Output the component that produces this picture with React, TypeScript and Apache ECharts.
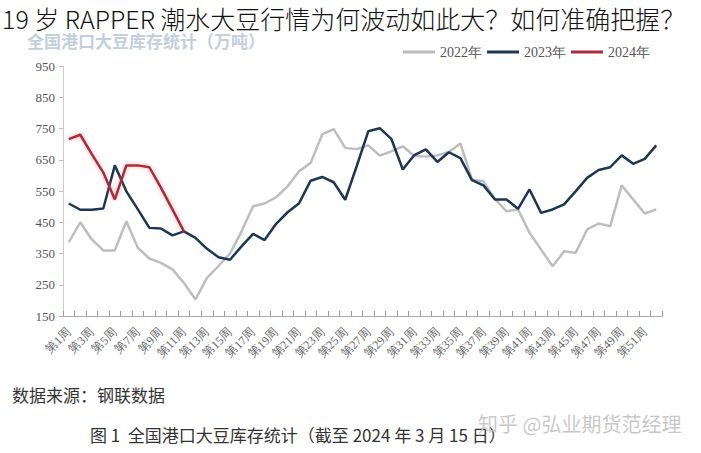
import React, { useEffect, useRef } from "react";
import * as echarts from "echarts";

const weeks: string[] = Array.from({ length: 52 }, (_, i) => `第${i + 1}周`);

const y2022: number[] = [
  386, 450, 395, 360, 360, 453, 368, 334, 320, 299, 256, 203, 272, 310, 350, 421,
  501, 510, 530, 565, 613, 640, 731, 748, 688, 684, 696, 663, 677, 693, 662, 660,
  664, 675, 702, 587, 581, 525, 485, 491, 416, 363, 309, 357, 352, 427, 446, 437,
  568, 523, 478, 491,
];

const y2023: number[] = [
  510, 490, 490, 494, 632, 549, 491, 432, 430, 408, 421, 400, 365, 338, 330, 373,
  413, 393, 445, 482, 511, 583, 595, 578, 522, 630, 741, 751, 717, 619, 665, 683,
  643, 674, 655, 585, 568, 523, 523, 493, 555, 480, 491, 507, 549, 592, 617, 626,
  664, 637, 653, 696,
];

const y2024: number[] = [716, 730, 668, 609, 523, 632, 632, 626, 561, 491, 421];

const seriesNames = ["2022年", "2023年", "2024年"];
const colors = ["#bdbdbd", "#1d3654", "#a82a3a"];

const headline = "19 岁 RAPPER 潮水大豆行情为何波动如此大？如何准确把握？";
const chartTitle = "全国港口大豆库存统计（万吨）";
const sourceText = "数据来源：钢联数据";
const caption = "图 1  全国港口大豆库存统计（截至 2024 年 3 月 15 日）";
const watermark = "知乎 @弘业期货范经理";

export default function App() {
  const ref = useRef<HTMLDivElement>(null);
  useEffect(() => {
    if (!ref.current) return;
    const chart = echarts.init(ref.current, null, { renderer: "svg" });
    const serif = "'Liberation Serif', 'DejaVu Serif', serif";
    const cjk = "'Noto Sans CJK SC', sans-serif";
    chart.setOption({
      animation: false,
      backgroundColor: "#ffffff",
      grid: { left: 63, right: 39, top: 66, bottom: 137 },
      legend: {
        data: seriesNames,
        left: 398,
        top: 40,
        itemWidth: 32,
        itemHeight: 3,
        itemGap: 5,
        icon: "rect",
        textStyle: { fontFamily: serif, fontSize: 14, color: "#555" },
      },
      xAxis: {
        type: "category",
        data: weeks,
        boundaryGap: true,
        axisLine: { lineStyle: { color: "#aaaaaa", width: 1 } },
        axisTick: { show: true, inside: true, length: 5, interval: 0, lineStyle: { color: "#999" } },
        axisLabel: {
          interval: 1,
          rotate: 45,
          fontFamily: serif,
          fontSize: 12,
          color: "#666",
          margin: 14,
        },
        splitLine: { show: false },
      },
      yAxis: {
        type: "value",
        min: 150,
        max: 950,
        interval: 100,
        axisLine: { show: true, lineStyle: { color: "#cccccc" } },
        axisTick: { show: true, length: 4, lineStyle: { color: "#bbb" } },
        axisLabel: { fontFamily: serif, fontSize: 13, color: "#555", margin: 8 },
        splitLine: { show: false },
      },
      series: [
        {
          name: seriesNames[0],
          type: "line",
          data: y2022,
          symbol: "none",
          lineStyle: { color: colors[0], width: 2.5 },
          itemStyle: { color: colors[0] },
          z: 1,
        },
        {
          name: seriesNames[1],
          type: "line",
          data: y2023,
          symbol: "none",
          lineStyle: { color: colors[1], width: 2.5 },
          itemStyle: { color: colors[1] },
          z: 2,
        },
        {
          name: seriesNames[2],
          type: "line",
          data: y2024,
          symbol: "none",
          lineStyle: { color: colors[2], width: 2.5, shadowColor: "rgba(235,110,120,0.6)", shadowBlur: 4 },
          itemStyle: { color: colors[2] },
          z: 3,
        },
      ],
      graphic: [
        {
          type: "text",
          left: 27,
          top: 32,
          z: 1,
          style: { text: chartTitle, font: `bold 17px ${cjk}`, fill: "#c3cfdb" },
        },
        {
          type: "text",
          left: 2,
          top: 5,
          z: 10,
          style: { text: headline, font: `300 25px ${cjk}`, fill: "#111" },
        },
        {
          type: "text",
          left: 12,
          top: 386,
          style: { text: sourceText, font: `17px ${cjk}`, fill: "#333" },
        },
        {
          type: "text",
          left: 90,
          top: 426,
          style: { text: caption, font: `17px ${cjk}`, fill: "#333" },
        },
        {
          type: "text",
          left: 478,
          top: 413,
          z: 10,
          style: { text: watermark, font: `20px ${cjk}`, fill: "rgba(190,190,190,0.85)" },
        },
      ],
    });
    return () => chart.dispose();
  }, []);
  return (
    <div
      ref={ref}
      style={{ position: "absolute", left: 0, top: 0, width: 701, height: 453 }}
    />
  );
}
